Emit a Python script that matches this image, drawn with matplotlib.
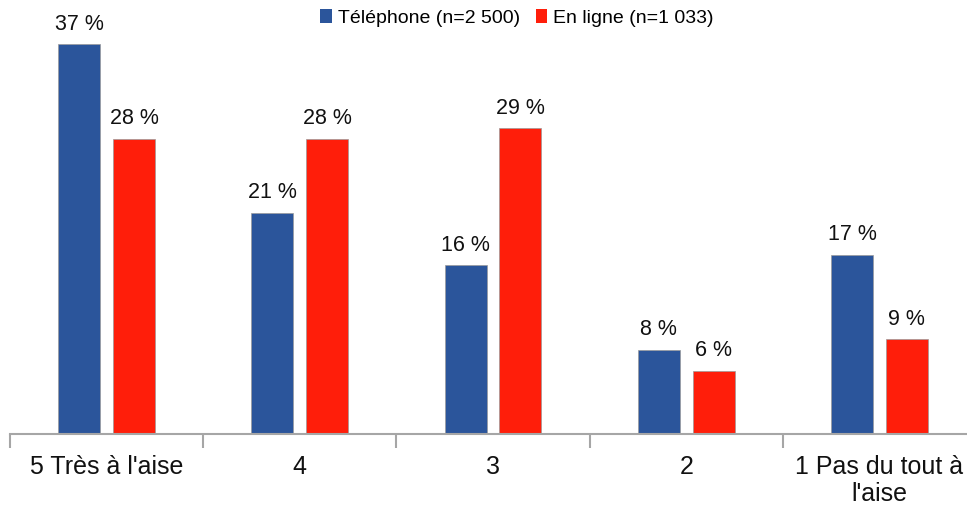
import numpy as np
import matplotlib.pyplot as plt
from matplotlib.patches import Patch

# data
categories = ["5 Très à l'aise", "4", "3", "2", "1 Pas du tout à\nl'aise"]
telephone = [37, 21, 16, 8, 17]
en_ligne = [28, 28, 29, 6, 9]
series_names = ["Téléphone (n=2 500)", "En ligne (n=1 033)"]

blue = '#2B559B'
red = '#FF1E0A'

plt.rcParams['font.family'] = ['Liberation Sans', 'DejaVu Sans']

fig = plt.figure(figsize=(9.67, 5.11), dpi=100)
ax = fig.add_axes([10 / 967, (511 - 434) / 511, 966 / 967, 434 / 511])

x = np.arange(len(categories))
w = 0.217
off = 0.142
b1 = ax.bar(x - off, telephone, w, color=blue, edgecolor='#9a9a9a', linewidth=0.5)
b2 = ax.bar(x + off, en_ligne, w, color=red, edgecolor='#9a9a9a', linewidth=0.5)

for bars, vals in ((b1, telephone), (b2, en_ligne)):
    for r, v in zip(bars, vals):
        ax.text(r.get_x() + r.get_width() / 2, v + 0.9, f"{v} %",
                ha='center', va='bottom', fontsize=15.5, color='#111111')

ax.set_xlim(-0.5, len(categories) - 0.5)
ax.set_ylim(0, 434 / 10.54)

for s in ('top', 'right', 'left'):
    ax.spines[s].set_visible(False)
ax.spines['bottom'].set_color('#a6a6a6')
ax.spines['bottom'].set_linewidth(1.5)
ax.set_yticks([])

ax.set_xticks(np.arange(len(categories) + 1) - 0.5)
ax.set_xticklabels([])
ax.tick_params(axis='x', which='major', length=10, width=1.5, color='#a6a6a6', direction='out')
ax.set_xticks(x, minor=True)
ax.set_xticklabels(categories, minor=True, fontsize=18, color='#111111', linespacing=1.15)
ax.tick_params(axis='x', which='minor', length=0, pad=15)

handles = [Patch(facecolor=blue, edgecolor='none'), Patch(facecolor=red, edgecolor='none')]
fig.legend(handles, series_names, loc='center', bbox_to_anchor=(517 / 967, 1 - 18 / 511),
           ncol=2, frameon=False, handlelength=0.6, handleheight=0.75,
           handletextpad=0.3, columnspacing=0.8,
           prop={'size': 14})

fig.savefig('out.png', dpi=100)
